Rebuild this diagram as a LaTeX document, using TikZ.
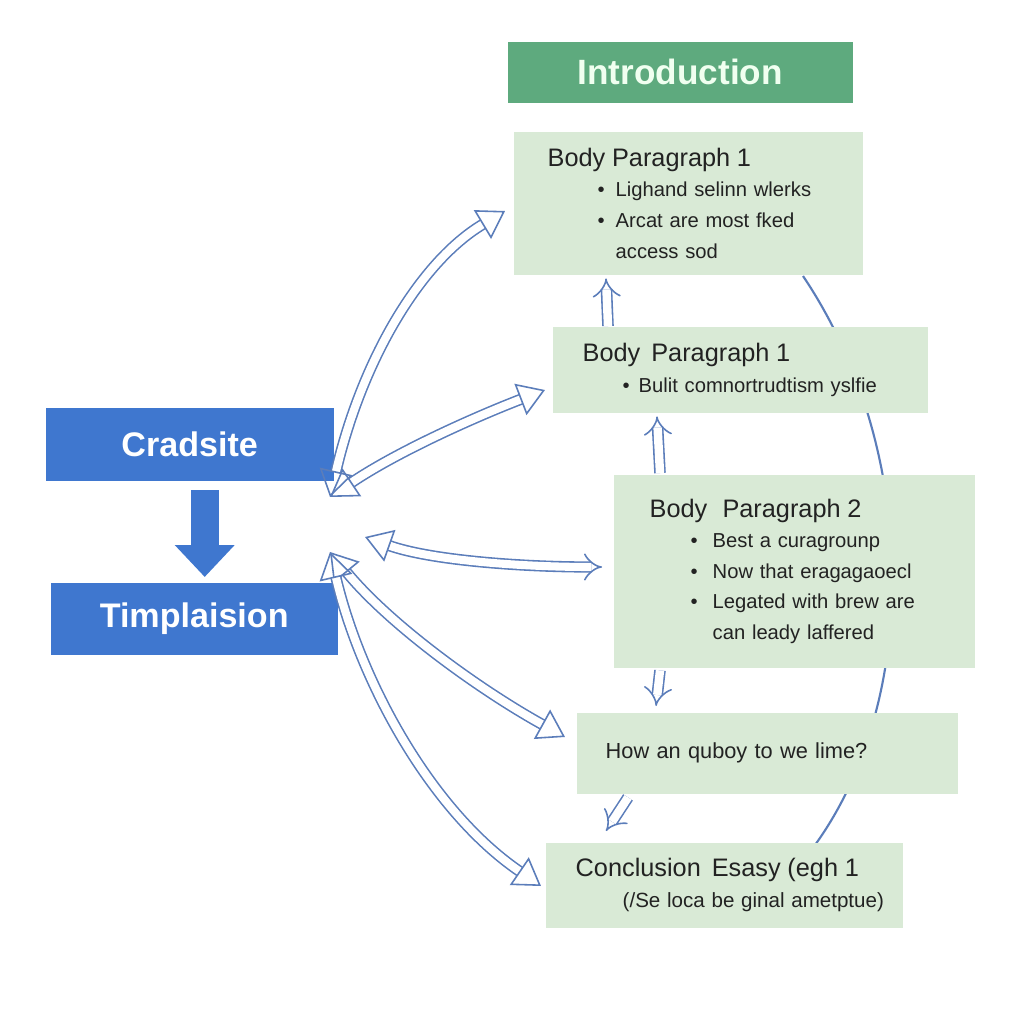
\documentclass[tikz,border=0pt]{standalone}
\usepackage{fontspec}
\setmainfont{Liberation Sans}
\usetikzlibrary{arrows.meta, positioning}

\definecolor{introgreen}{HTML}{5EAA7E}
\definecolor{paragreen}{HTML}{D9EAD6}
\definecolor{boxblue}{HTML}{3F77CF}
\definecolor{arrowblue}{HTML}{5B7DBA}
\definecolor{textdark}{HTML}{222222}

% bullet line: indent of the bullet, width of the bullet box, text
\newcommand{\bul}[3]{\hspace*{#1}\makebox[#2][l]{\textbullet}#3}
\newcommand{\ptitle}[1]{{\fontsize{7.2}{8.7}\selectfont #1}}

\begin{document}
\begin{tikzpicture}[
    x=0.1mm, y=-0.1mm,
    font=\fontsize{5.75}{8.7}\selectfont,
    every node/.style={align=left},
    para/.style={rectangle, fill=paragreen, anchor=north west, inner sep=0pt, text=textdark},
    head/.style={rectangle, anchor=north west, inner sep=0pt, text=white, align=center, font=\bfseries\fontsize{9.7}{11}\selectfont},
    hollow/.style={draw=arrowblue, double=white, double distance=2.3pt, line width=0.45pt},
    twotips/.style={{Triangle[open, length=7.5pt, width=9.5pt]}-{Triangle[open, length=7.5pt, width=9.5pt]}},
    smallarrow/.style={hollow, double distance=2.4pt, -Implies},
    down/.style={draw=boxblue, line width=2.8mm, -{Triangle[length=3.2mm, width=5.8mm]}}
]
\fill[white] (0,0) rectangle (1024,1024);
\useasboundingbox (0,0) rectangle (1024,1024);

% the big arc behind the paragraph boxes
\coordinate (arctop) at (803,276);
\coordinate (arcbot) at (815,845);
\draw[arrowblue, line width=0.6pt] (arctop) .. controls (920,450) and (920,700) .. (arcbot);

\node[head, fill=introgreen, minimum width=34.5mm, minimum height=6.1mm, text=white!94!green,
    font=\bfseries\fontsize{10}{12}\selectfont] (intro) at (507,41) {Introduction};
\node[para, minimum width=34.9mm, minimum height=14.3mm, text width=28.1mm] (bp1a) at (513,131) {\ptitle{Body Paragraph 1}\\
    \bul{5mm}{1.8mm}{Lighand selinn wlerks}\\
    \bul{5mm}{1.8mm}{Arcat are most fked}\\
    \hspace*{6.8mm}access sod};
\node[para, minimum width=37.5mm, minimum height=8.6mm, text width=31.5mm] (bp1b) at (552,326) {\ptitle{Body\, Paragraph 1}\\
    \bul{4mm}{1.6mm}{Bulit comnortrudtism yslfie}};
\node[para, minimum width=36.1mm, minimum height=19.3mm, text width=28.9mm] (bp2) at (613,474) {\ptitle{Body\,\, Paragraph 2}\\
    \bul{4.1mm}{2.2mm}{Best a curagrounp}\\
    \bul{4.1mm}{2.2mm}{Now that eragagaoecl}\\
    \bul{4.1mm}{2.2mm}{Legated with brew are}\\
    \hspace*{6.3mm}can leady laffered};
\node[para, minimum width=38.1mm, minimum height=8.1mm, text width=32.3mm,
    font=\fontsize{6.2}{8.7}\selectfont] (how) at (576,712) {How an quboy to we lime?};
\node[para, minimum width=35.7mm, minimum height=8.5mm, text width=29.7mm] (concl) at (545,842) {\ptitle{Conclusion\, Esasy (egh 1}\\
    \mbox{\hspace*{4.7mm}\fontsize{5.85}{8.7}\selectfont(/Se loca be ginal ametptue)}};

\node[head, fill=boxblue, minimum width=28.8mm, minimum height=7.3mm] (crad) at (45,407) {Cradsite};
\node[head, fill=boxblue, minimum width=28.7mm, minimum height=7.2mm] (timpl) at (50,582) {Timplaision};
\draw[down, shorten <=0.9mm, shorten >=0.5mm] ([xshift=1.5mm]crad.south) -- ([xshift=1.5mm]crad.south |- timpl.north);

% hubs left of the paragraph boxes
\coordinate (hubtop) at (330,497);
\coordinate (hubbot) at (330,552);
\coordinate (bp1ain) at (505,211);
\coordinate (bp1bin) at (545,390);
\coordinate (bp2out) at (365,537);
\coordinate (bp2in) at (602,567);
\coordinate (howin) at (565,737);
\coordinate (conclin) at (541,886);

\draw[hollow, twotips] (hubtop) .. controls (362,360) and (420,262) .. (bp1ain);
\draw[hollow, twotips] (hubtop) .. controls (400,450) and (480,415) .. (bp1bin);
\draw[hollow, {Triangle[open, length=7.5pt, width=9.5pt]}-Implies] (bp2out) .. controls (430,560) and (520,567) .. (bp2in);
\draw[hollow, twotips] (hubbot) .. controls (390,625) and (480,690) .. (howin);
\draw[hollow, twotips] (hubbot) .. controls (360,680) and (430,810) .. (conclin);

% small arrows between the paragraph boxes
\draw[smallarrow] ([shift={(56,0)}]bp1b.north west) -- ([shift={(93,3)}]bp1a.south west);
\draw[smallarrow] ([shift={(47,-1)}]bp2.north west) -- ([shift={(105,3)}]bp1b.south west);
\draw[smallarrow] ([shift={(47,2)}]bp2.south west) -- ([shift={(80,-6)}]how.north west);
\draw[smallarrow] ([shift={(52,3)}]how.south west) -- ([shift={(61,-11)}]concl.north west);
\end{tikzpicture}
\end{document}
